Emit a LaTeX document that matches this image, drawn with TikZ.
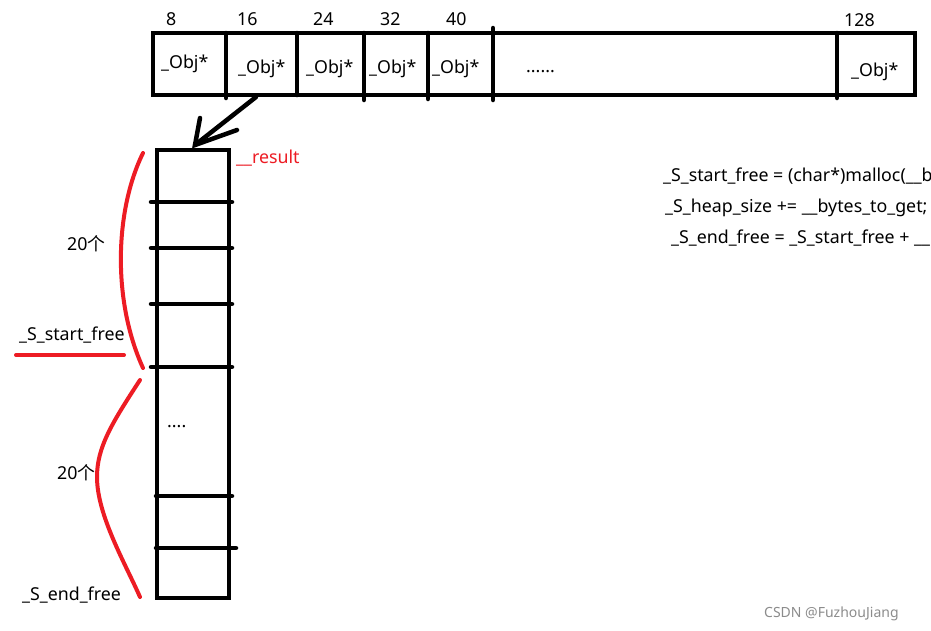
\documentclass[tikz,border=0pt]{standalone}
\usepackage{fontspec}
\setmainfont{Noto Sans}
\newfontfamily\cjk{Noto Sans CJK SC}
\definecolor{pred}{RGB}{237,28,36}
\begin{document}
\begin{tikzpicture}[x=1pt,y=-1pt,
  thickline/.style={line width=4.5pt},
  divline/.style={line width=4.5pt, line cap=round},
  redline/.style={line width=4pt, draw=pred, line cap=round},
  lbl/.style={font=\fontsize{17.8}{20}\selectfont, inner sep=0pt, anchor=base west},
  ]
\useasboundingbox (0,0) rectangle (931,630);
\clip (0,0) rectangle (931,630);
\fill[white] (0,0) rectangle (931,630);

% top array
\draw[thickline] (153,33) rectangle (915,95);
\draw[divline] (226,33) -- (226,98);
\draw[divline] (297,33) -- (297,95);
\draw[divline] (364,33) -- (364,100);
\draw[divline] (428,33) -- (428,99);
\draw[divline] (493,28) -- (493,100);
\draw[divline] (837,33) -- (837,98);

\node[lbl] (n8) at (166,25) {8};
\node[lbl] (n16) at (237,25) {16};
\node[lbl] (n24) at (313,25) {24};
\node[lbl] (n32) at (380,25) {32};
\node[lbl] (n40) at (446,25) {40};
\node[lbl] (n128) at (844,26) {128};

\node[lbl] (o1) at (161,68) {\_Obj*};
\node[lbl] (o2) at (238,73) {\_Obj*};
\node[lbl] (o3) at (306,73) {\_Obj*};
\node[lbl] (o4) at (369,73) {\_Obj*};
\node[lbl] (o5) at (432,73) {\_Obj*};
\node[lbl] (o6) at (851,76) {\_Obj*};
\node[lbl] (dots1) at (526,72) {......};

% arrow
\coordinate (arrowstart) at (256,97);
\coordinate (arrowtip) at (195,145);
\coordinate (headA) at (200,118);
\coordinate (headB) at (237,130);
\draw[divline] (arrowstart) -- (arrowtip);
\draw[divline] (headA) -- (arrowtip) -- (headB);

% column
\draw[thickline] (157,150) rectangle (229,598);
\draw[divline] (151,202) -- (232,202);
\draw[divline] (151,248) -- (232,248);
\draw[divline] (151,304) -- (232,304);
\draw[divline] (151,367) -- (232,367);
\draw[divline] (156,496) -- (232,496);
\draw[divline] (156,548) -- (236,548);

\node[lbl, text=pred] (result) at (236,163) {\_\_result};
\node[lbl] (dots2) at (167,427) {....};

% red brackets
\draw[redline] (143,153) .. controls (115,210) and (112,300) .. (143,368);
\draw[redline] (140,380) .. controls (112,423) and (97,447) .. (97,477) .. controls (97,515) and (125,563) .. (140,597);
\draw[redline] (16,355) -- (124,355);

\node[lbl] (c1) at (67,250) {20{\cjk 个}};
\node[lbl] (c2) at (57,479) {20{\cjk 个}};
\node[lbl] (ssf) at (19,340) {\_S\_start\_free};
\node[lbl] (sef) at (22,600) {\_S\_end\_free};

% right code (cut off at the right edge, as in the reference)
\node[lbl] (l1) at (663,181) {\_S\_start\_free = (char*)malloc(\_\_bytes\_to\_get);};
\node[lbl] (l2) at (665,212) {\_S\_heap\_size += \_\_bytes\_to\_get;};
\node[lbl] (l3) at (671,243) {\_S\_end\_free = \_S\_start\_free + \_\_bytes\_to\_get;};

% watermark
\node[inner sep=0pt, anchor=base west, text=black!45, font=\fontsize{14}{16}\selectfont] (wm) at (764,617) {CSDN @FuzhouJiang};
\end{tikzpicture}
\end{document}
